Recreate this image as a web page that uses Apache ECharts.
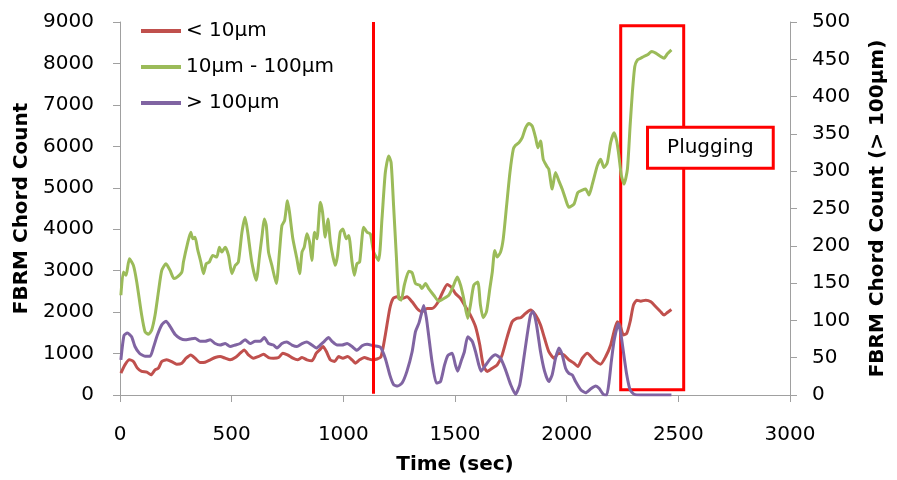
<!DOCTYPE html>
<html><head><meta charset="utf-8">
<script src="https://cdn.jsdelivr.net/npm/echarts@6/dist/echarts.min.js"></script>
<style>html,body{margin:0;padding:0;background:#fff}#c{width:897px;height:480px}</style>
</head><body><div id="c"></div>
<script>
const seriesNames = ['< 10\u00b5m', '10\u00b5m - 100\u00b5m', '> 100\u00b5m'];

const redT = [4,22,42,60,78,97,120,139,157,172,187,209,231,254,277,296,317,336,359,381,404,426,448,471,493,516,538,556,575,598,620,643,665,687,710,729,750,774,795,815,837,859,879,894,909,924,942,961,979,998,1019,1039,1054,1073,1094,1113,1128,1151,1169,1188,1208,1223,1240,1263,1285,1308,1330,1352,1375,1397,1420,1442,1465,1483,1502,1525,1547,1569,1592,1611,1626,1644,1667,1689,1711,1734,1756,1776,1794,1816,1838,1861,1883,1901,1920,1943,1965,1988,2010,2033,2050,2070,2093,2122,2152,2175,2197,2212,2227,2239,2254,2269,2284,2299,2314,2332,2354,2377,2399,2421,2436,2451,2469];
const redV = [528,728,848,808,648,568,552,488,608,648,808,848,808,744,768,888,968,888,784,792,848,904,928,888,848,904,1008,1088,968,888,928,984,904,888,904,1008,968,888,848,904,848,824,1008,1088,1168,1048,848,808,928,888,928,848,768,848,904,872,848,868,928,1448,2088,2328,2368,2328,2368,2248,2088,2008,2088,2088,2208,2448,2664,2608,2448,2328,2128,1928,1648,1208,728,568,648,728,968,1408,1768,1848,1864,1968,2048,1928,1688,1368,1048,888,1008,968,848,768,688,888,1008,848,744,928,1208,1528,1768,1688,1448,1488,1768,2168,2288,2264,2288,2248,2128,2008,1928,1992,2064];

const greenT = [4,15,27,42,60,75,97,112,127,142,157,172,187,206,224,242,257,277,284,302,317,326,336,347,362,374,386,400,415,433,445,456,471,486,501,516,530,546,560,572,590,610,625,637,646,655,665,680,700,714,725,737,750,759,774,792,804,815,825,837,849,859,871,882,897,907,919,931,942,954,964,974,986,998,1013,1024,1039,1049,1061,1073,1091,1106,1121,1136,1158,1173,1188,1203,1214,1225,1238,1248,1259,1273,1293,1308,1323,1342,1352,1368,1382,1405,1427,1450,1472,1491,1510,1525,1539,1557,1569,1584,1602,1614,1626,1641,1656,1667,1678,1689,1704,1716,1731,1746,1761,1771,1786,1801,1816,1831,1846,1861,1871,1883,1895,1910,1920,1935,1950,1965,1980,1995,2010,2033,2050,2070,2085,2100,2115,2137,2152,2167,2182,2197,2212,2224,2234,2245,2257,2272,2284,2294,2305,2317,2332,2346,2362,2381,2399,2421,2436,2451,2469];
const greenV = [2407,2968,2887,3288,3128,2728,1928,1528,1464,1568,1928,2488,3008,3168,3008,2808,2848,2968,3208,3648,3928,3768,3808,3528,3208,2928,3168,3208,3368,3328,3568,3448,3568,3368,2928,3128,3208,3928,4288,3928,3208,2768,3368,3888,4248,4088,3448,3128,2688,3448,4088,4208,4688,4408,3768,3288,2928,3448,3568,3888,3688,3248,3928,3768,4648,4408,3808,4248,3688,3328,3128,3368,3928,4008,3768,3848,3208,2888,3168,3208,4048,3928,3888,3448,3248,4248,5368,5768,5608,4568,3288,2328,2288,2648,2984,2952,2688,2648,2568,2688,2568,2408,2264,2328,2408,2608,2848,2648,2328,1848,2168,2648,2728,2168,1864,2008,2568,2968,3488,3328,3448,3768,4568,5368,5928,6024,6088,6208,6448,6552,6488,6208,5968,6128,5688,5528,5448,4968,5368,5168,4968,4728,4528,4608,4888,4944,4968,4824,5088,5528,5688,5488,5608,6088,6328,6128,5768,5288,5088,5448,6488,7288,7928,8088,8128,8168,8208,8288,8248,8168,8128,8232,8328];

const purpleT = [4,18,33,52,67,87,112,135,149,167,187,206,224,247,269,291,314,336,359,381,404,426,448,471,493,516,538,560,583,605,628,646,665,687,703,725,747,770,792,815,837,859,879,897,915,934,949,972,994,1017,1039,1061,1084,1106,1136,1166,1188,1208,1225,1243,1263,1285,1308,1323,1338,1348,1360,1372,1382,1397,1417,1435,1453,1468,1487,1502,1512,1527,1542,1557,1577,1592,1607,1617,1637,1659,1681,1704,1726,1749,1771,1790,1808,1823,1838,1850,1865,1883,1901,1920,1935,1950,1965,1980,1995,2010,2025,2040,2063,2085,2107,2130,2145,2164,2179,2190,2200,2212,2224,2231,2242,2254,2269,2284,2302,2332,2400,2469];
const purpleV = [47,80,83,78,65,56,52,52,63,80,94,99,92,81,76,74,75,76,72,72,74,69,67,69,65,67,69,74,69,72,72,77,69,67,63,69,71,67,65,69,71,67,63,67,72,77,72,67,67,69,65,60,66,68,66,64,49,27,14,12,16,32,58,85,96,107,120,103,80,45,16,18,40,53,56,40,32,45,58,78,72,58,40,32,40,49,54,49,34,14,1,14,49,80,107,112,94,58,32,18,27,49,63,54,36,29,27,18,7,3,8,12,9,1,0,18,45,72,89,96,83,58,27,7,1,0,0,0];

// annotations (data coordinates)
const eventTime = 1134;
const plugStart = 2242, plugEnd = 2524;        // box on right axis
const plugLow = 7, plugHigh = 495;
const labelBox = [[2362, 359], [2925, 304]];

const zip = (t, v) => t.map((x, i) => [x, v[i]]);
const FONT = 'DejaVu Sans';
const AX = '#A0A0A0';
const plain = v => String(v);

const chart = echarts.init(document.getElementById('c'), null, {renderer: 'canvas'});
const axisCommon = {
  axisLine: {show: true, lineStyle: {color: AX, width: 1}},
  axisTick: {show: true, length: 7, lineStyle: {color: AX}},
  splitLine: {show: false},
  nameTextStyle: {fontFamily: FONT, fontSize: 20, fontWeight: 'bold', color: '#000'}
};
chart.setOption({
  animation: false,
  grid: {left: 120, top: 22, width: 670, height: 375},
  legend: {
    orient: 'vertical', left: 136, top: 15, itemWidth: 40, itemHeight: 4, itemGap: 14,
    icon: 'rect',
    textStyle: {fontFamily: FONT, fontSize: 20, color: '#000', lineHeight: 22},
    data: seriesNames
  },
  xAxis: Object.assign({}, axisCommon, {
    type: 'value', min: 0, max: 3000, interval: 500,
    name: 'Time (sec)', nameLocation: 'middle', nameGap: 60,
    axisLabel: {margin: 30, fontFamily: FONT, fontSize: 20, color: '#000', formatter: plain}
  }),
  yAxis: [
    Object.assign({}, axisCommon, {
      type: 'value', position: 'left', min: 0, max: 9000, interval: 1000,
      name: 'FBRM Chord Count', nameLocation: 'middle', nameGap: 87, nameRotate: 90,
      axisLabel: {margin: 26, fontFamily: FONT, fontSize: 20, color: '#000', formatter: plain}
    }),
    Object.assign({}, axisCommon, {
      type: 'value', position: 'right', min: 0, max: 500, interval: 50,
      name: 'FBRM Chord Count (> 100\u00b5m)', nameLocation: 'middle', nameGap: 78, nameRotate: 90,
      axisLabel: {margin: 22, fontFamily: FONT, fontSize: 20, color: '#000', formatter: plain}
    })
  ],
  series: [
    {
      name: seriesNames[0], type: 'line', yAxisIndex: 0, data: zip(redT, redV),
      symbol: 'none', smooth: 0.2, lineStyle: {color: '#C0504D', width: 3}, itemStyle: {color: '#C0504D'},
      markLine: {
        silent: true, symbol: ['none', 'none'], label: {show: false},
        lineStyle: {color: '#FF0000', width: 3, type: 'solid'},
        emphasis: {disabled: true},
        data: [[{coord: [eventTime, 30]}, {coord: [eventTime, 9000]}]]
      }
    },
    {
      name: seriesNames[1], type: 'line', yAxisIndex: 0, data: zip(greenT, greenV),
      symbol: 'none', smooth: 0.2, lineStyle: {color: '#9BBB59', width: 3}, itemStyle: {color: '#9BBB59'}
    },
    {
      name: seriesNames[2], type: 'line', yAxisIndex: 1, data: zip(purpleT, purpleV),
      symbol: 'none', smooth: 0.2, lineStyle: {color: '#8064A2', width: 3}, itemStyle: {color: '#8064A2'},
      markArea: {
        silent: true,
        emphasis: {disabled: true},
        data: [
          [{coord: [plugStart, plugLow], itemStyle: {color: 'rgba(0,0,0,0)', borderColor: '#FF0000', borderWidth: 3}, label: {show: false}},
           {coord: [plugEnd, plugHigh]}],
          [{name: 'Plugging', coord: labelBox[0], itemStyle: {color: '#FFFFFF', borderColor: '#FF0000', borderWidth: 3},
            label: {show: true, position: 'inside', fontFamily: FONT, fontSize: 20, color: '#000'}},
           {coord: labelBox[1]}]
        ]
      }
    }
  ]
});
</script>
</body></html>
